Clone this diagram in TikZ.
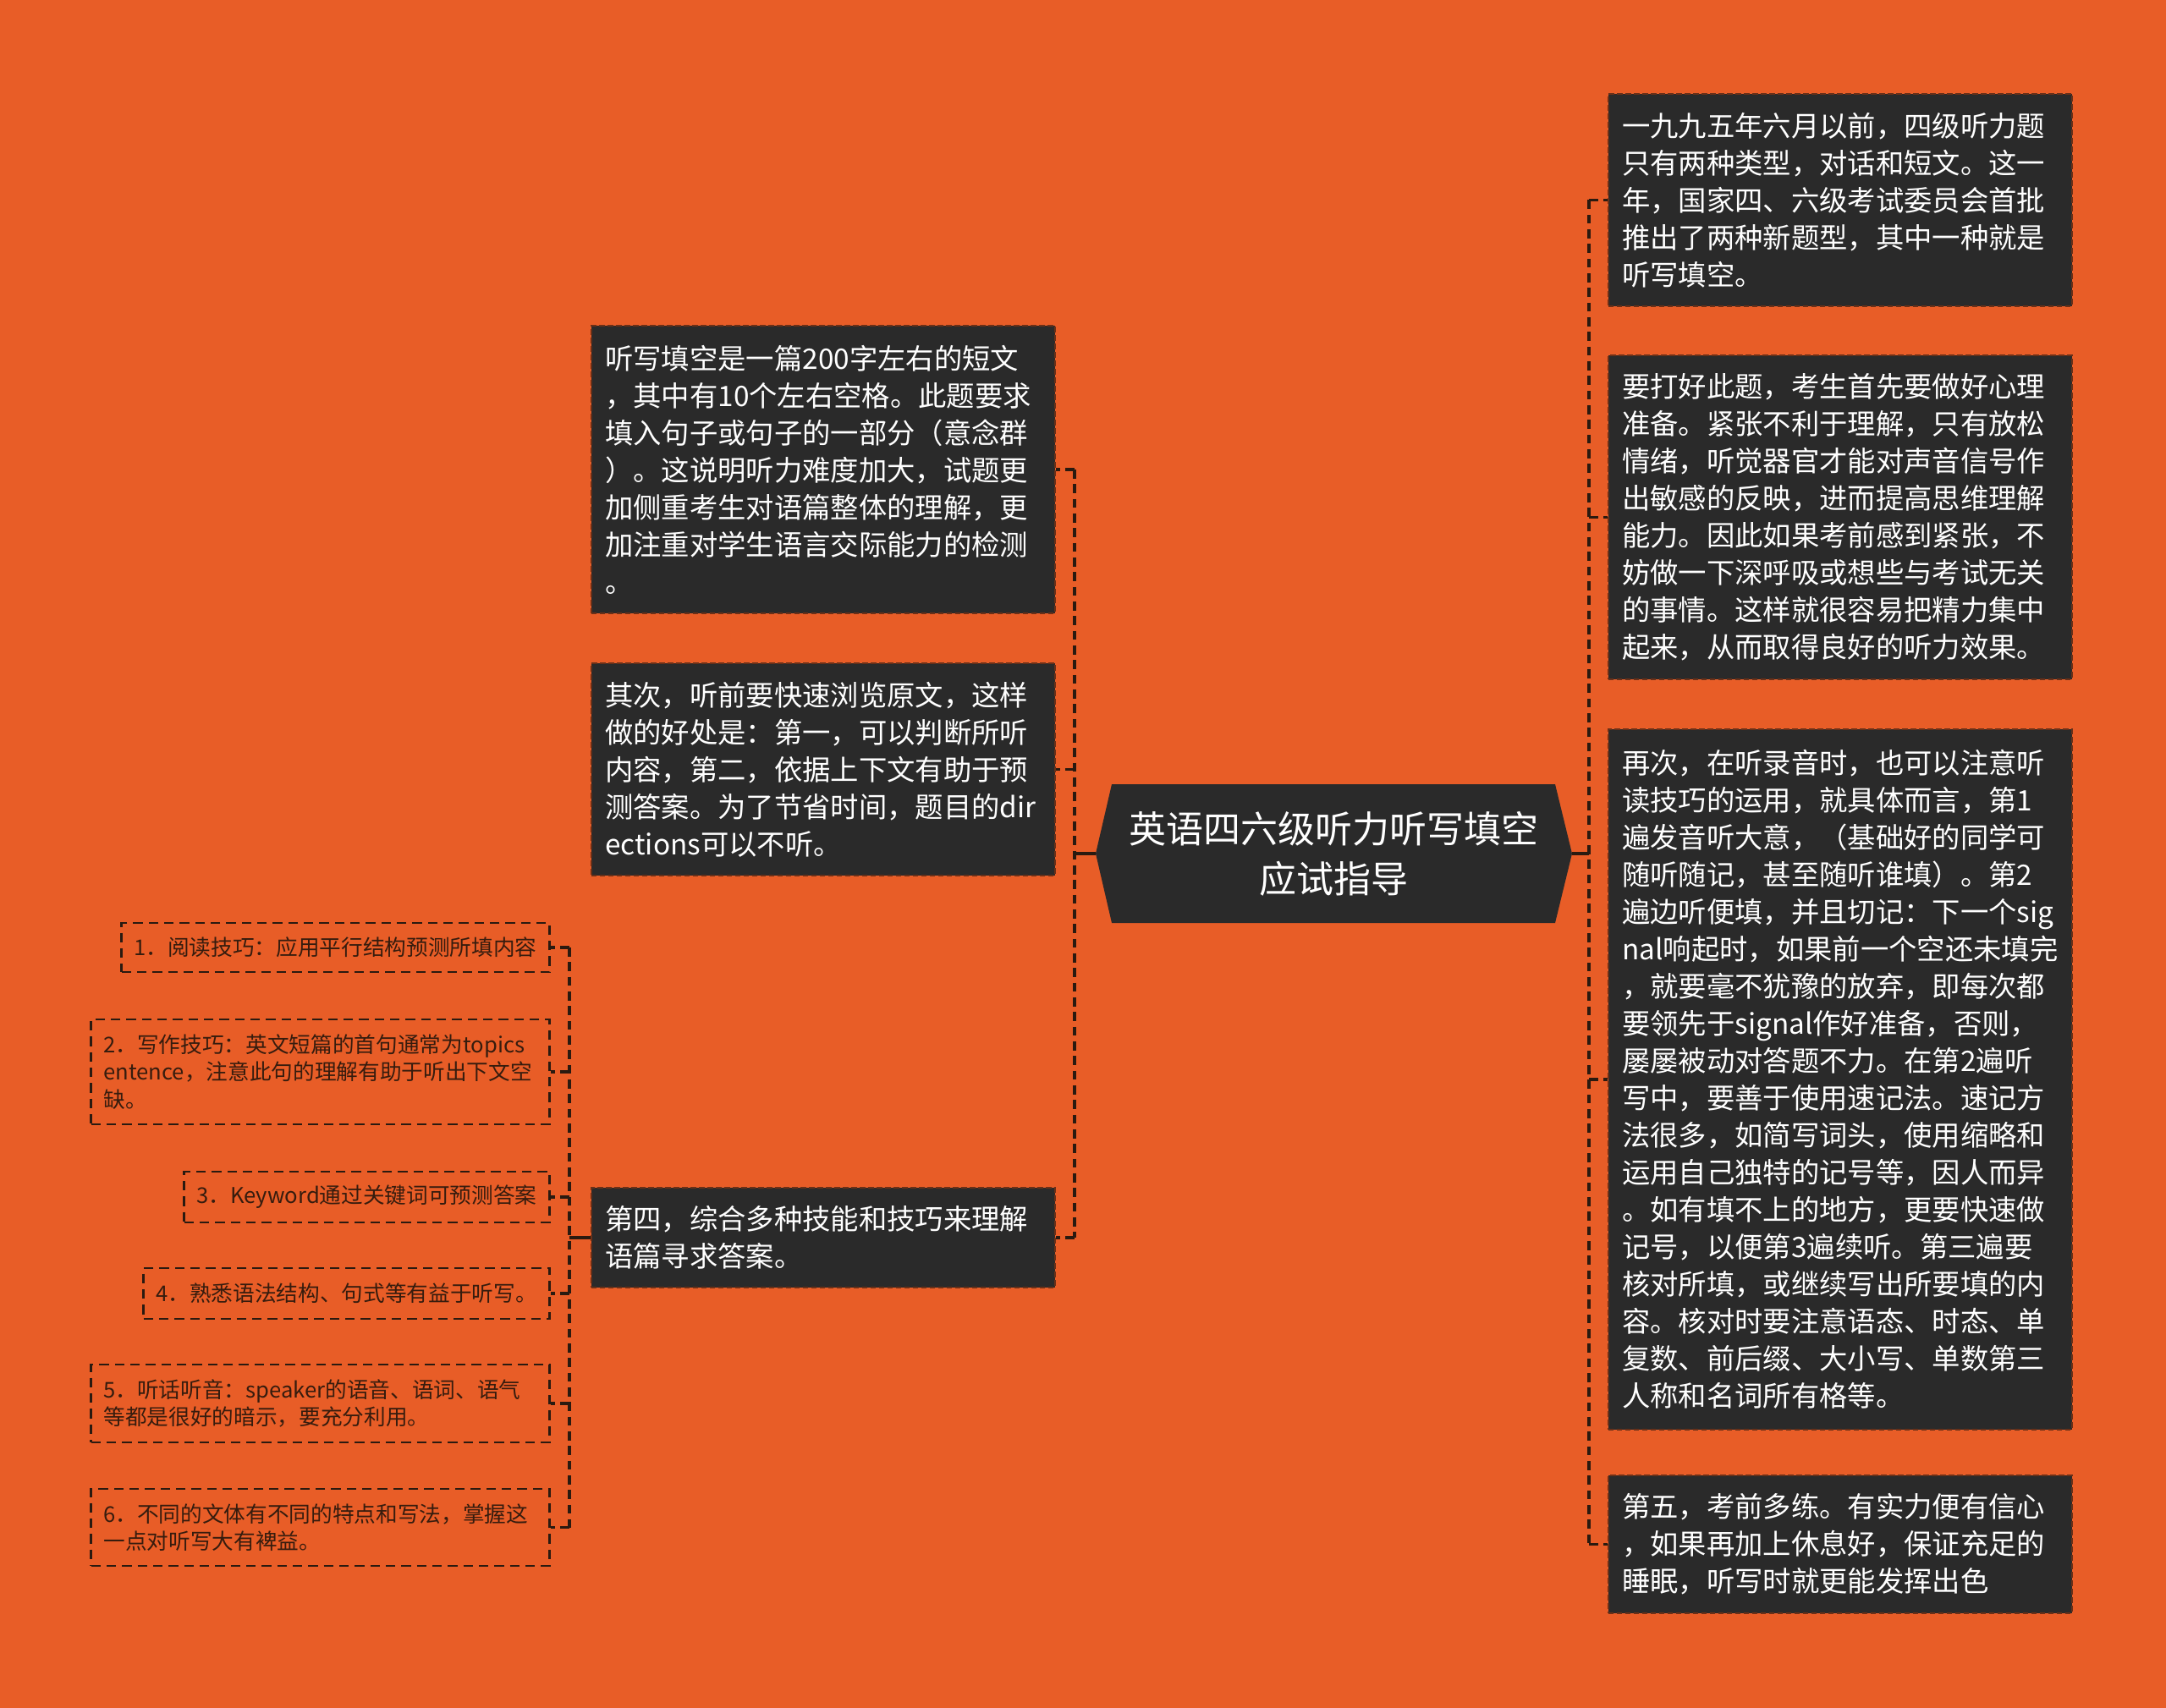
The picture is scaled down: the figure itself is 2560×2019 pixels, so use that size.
\documentclass[tikz,border=0pt]{standalone}
\usepackage{fontspec}
\newfontfamily\cjk{Noto Sans CJK SC}
\definecolor{bg}{HTML}{E85D27}
\definecolor{boxfill}{HTML}{2A2A2A}
\definecolor{boxedge}{HTML}{6A3018}
\definecolor{linec}{HTML}{2A1A10}
\definecolor{subtext}{HTML}{361C0E}
\tikzset{
  darkbox/.style={rectangle, fill=boxfill, draw=boxedge, dash pattern=on 2pt off 1pt,
    line width=0.6pt, text=white, font=\cjk\fontsize{10}{13.2}\selectfont,
    align=left, inner xsep=5pt, inner ysep=0pt, minimum width=164.4pt, text width=154.4pt},
  subbox/.style={rectangle, draw=linec, dash pattern=on 3.4pt off 2.1pt, line width=0.8pt,
    text=subtext, font=\cjk\fontsize{7.7}{9.8}\selectfont, align=left,
    inner xsep=4.4pt, inner ysep=0pt, anchor=east},
  conn/.style={draw=linec, line width=1.05pt, dash pattern=on 3.2pt off 2pt},
  solidconn/.style={draw=linec, line width=1.05pt},
  centertext/.style={text=white, font=\cjk\fontsize{13.2}{17.6}\selectfont, align=center}
}
\begin{document}
\begin{tikzpicture}[x=0.3pt,y=-0.3pt]
\useasboundingbox (0,0) rectangle (2560,2019);
\fill[bg] (0,0) rectangle (2560,2019);

% central topic
\fill[boxfill] (1295,1009) -- (1314,927) -- (1838,927) -- (1858,1009) -- (1838,1091) -- (1314,1091) -- cycle;
\node[centertext] (center) at (1576,1009) {英语四六级听力听写填空\\应试指导};
\coordinate (cl) at (1295,1009);
\coordinate (cr) at (1858,1009);
\coordinate (ls) at (1270,1009);
\coordinate (rs) at (1878,1009);

% left main nodes
\node[darkbox, minimum height=102pt] (a) at (972.5,555) {听写填空是一篇200字左右的短文\\，其中有10个左右空格。此题要求\\填入句子或句子的一部分（意念群\\）。这说明听力难度加大，试题更\\加侧重考生对语篇整体的理解，更\\加注重对学生语言交际能力的检测\\。};
\node[darkbox, minimum height=75.3pt] (b) at (972.5,909.5) {其次，听前要快速浏览原文，这样\\做的好处是：第一，可以判断所听\\内容，第二，依据上下文有助于预\\测答案。为了节省时间，题目的dir\\ections可以不听。};
\node[darkbox, minimum height=35.4pt] (c) at (972.5,1463) {第四，综合多种技能和技巧来理解\\语篇寻求答案。};

% right main nodes
\node[darkbox, minimum height=75.3pt] (r1) at (2174.5,236.5) {一九九五年六月以前，四级听力题\\只有两种类型，对话和短文。这一\\年，国家四、六级考试委员会首批\\推出了两种新题型，其中一种就是\\听写填空。};
\node[darkbox, minimum height=114.9pt] (r2) at (2174.5,611.5) {要打好此题，考生首先要做好心理\\准备。紧张不利于理解，只有放松\\情绪，听觉器官才能对声音信号作\\出敏感的反映，进而提高思维理解\\能力。因此如果考前感到紧张，不\\妨做一下深呼吸或想些与考试无关\\的事情。这样就很容易把精力集中\\起来，从而取得良好的听力效果。};
\node[darkbox, minimum height=248.4pt] (r3) at (2174.5,1276) {再次，在听录音时，也可以注意听\\读技巧的运用，就具体而言，第1\\遍发音听大意，（基础好的同学可\\随听随记，甚至随听谁填）。第2\\遍边听便填，并且切记：下一个sig\\nal响起时，如果前一个空还未填完\\，就要毫不犹豫的放弃，即每次都\\要领先于signal作好准备，否则，\\屡屡被动对答题不力。在第2遍听\\写中，要善于使用速记法。速记方\\法很多，如简写词头，使用缩略和\\运用自己独特的记号等，因人而异\\。如有填不上的地方，更要快速做\\记号，以便第3遍续听。第三遍要\\核对所填，或继续写出所要填的内\\容。核对时要注意语态、时态、单\\复数、前后缀、大小写、单数第三\\人称和名词所有格等。};
\node[darkbox, minimum height=48.9pt] (r4) at (2174.5,1825.5) {第五，考前多练。有实力便有信心\\，如果再加上休息好，保证充足的\\睡眠，听写时就更能发挥出色};

% sub nodes of c
\node[subbox, minimum width=151.8pt, text width=143pt, minimum height=17.4pt] (l1) at (651,1120) {1．阅读技巧：应用平行结构预测所填内容};
\node[subbox, minimum width=162.6pt, text width=153.8pt, minimum height=37.2pt] (l2) at (651,1267) {2．写作技巧：英文短篇的首句通常为topics\\entence，注意此句的理解有助于听出下文空\\缺。};
\node[subbox, minimum width=129.6pt, text width=120.8pt, minimum height=18pt] (l3) at (651,1415) {3．Keyword通过关键词可预测答案};
\node[subbox, minimum width=144pt, text width=135.2pt, minimum height=18pt] (l4) at (651,1529) {4．熟悉语法结构、句式等有益于听写。};
\node[subbox, minimum width=162.6pt, text width=153.8pt, minimum height=27.6pt] (l5) at (651,1659) {5．听话听音：speaker的语音、语词、语气\\等都是很好的暗示，要充分利用。};
\node[subbox, minimum width=162.6pt, text width=153.8pt, minimum height=27.3pt] (l6) at (651,1805.5) {6．不同的文体有不同的特点和写法，掌握这\\一点对听写大有裨益。};
\coordinate (ss) at (673,1463);

% left connectors
\draw[solidconn] (cl) -- (ls);
\draw[conn] (ls |- a.east) -- (ls |- c.east);
\draw[conn] (ls |- a.east) -- (a.east);
\draw[conn] (ls |- b.east) -- (b.east);
\draw[conn] (ls |- c.east) -- (c.east);

% right connectors
\draw[solidconn] (cr) -- (rs);
\draw[conn] (rs |- r1.west) -- (rs |- r4.west);
\draw[conn] (rs |- r1.west) -- (r1.west);
\draw[conn] (rs |- r2.west) -- (r2.west);
\draw[conn] (rs |- r3.west) -- (r3.west);
\draw[conn] (rs |- r4.west) -- (r4.west);

% sub connectors
\draw[solidconn] (c.west) -- (ss);
\draw[conn] (ss |- l1.east) -- (ss |- l6.east);
\draw[conn] (ss |- l1.east) -- (l1.east);
\draw[conn] (ss |- l2.east) -- (l2.east);
\draw[conn] (ss |- l3.east) -- (l3.east);
\draw[conn] (ss |- l4.east) -- (l4.east);
\draw[conn] (ss |- l5.east) -- (l5.east);
\draw[conn] (ss |- l6.east) -- (l6.east);
\end{tikzpicture}
\end{document}
